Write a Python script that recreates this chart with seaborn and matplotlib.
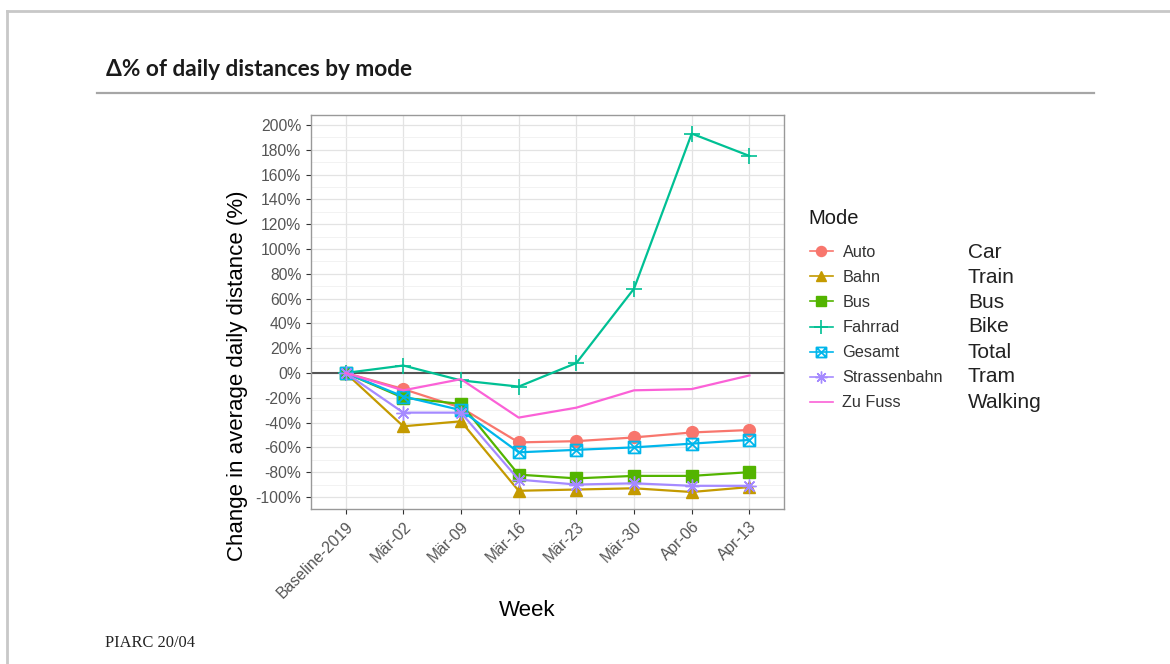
import numpy as np
import pandas as pd
import seaborn as sns
import matplotlib.pyplot as plt
from matplotlib.path import Path
from matplotlib.lines import Line2D
from matplotlib.ticker import FixedLocator, FuncFormatter

weeks = ["Baseline-2019", "Mär-02", "Mär-09", "Mär-16", "Mär-23", "Mär-30", "Apr-06", "Apr-13"]
modes = ["Auto", "Bahn", "Bus", "Fahrrad", "Gesamt", "Strassenbahn", "Zu Fuss"]
english = ["Car", "Train", "Bus", "Bike", "Total", "Tram", "Walking"]

auto = [0, -13, -28, -56, -55, -52, -48, -46]
bahn = [0, -43, -39, -95, -94, -93, -96, -92]
bus = [0, -20, -25, -82, -85, -83, -83, -80]
fahrrad = [0, 6, -6, -11, 8, 68, 193, 175]
gesamt = [0, -19, -30, -64, -62, -60, -57, -54]
strassenbahn = [0, -32, -32, -86, -90, -89, -91, -91]
zu_fuss = [0, -14, -5, -36, -28, -14, -13, -2]

series = [auto, bahn, bus, fahrrad, gesamt, strassenbahn, zu_fuss]
colors = ["#F8766D", "#C49A00", "#53B400", "#00C094", "#00B6EB", "#A58AFF", "#FB61D7"]

df = pd.DataFrame({
    "week": pd.Categorical(np.tile(weeks, len(modes)), categories=weeks, ordered=True),
    "mode": np.repeat(modes, len(weeks)),
    "change": np.concatenate(series),
})

# custom marker shapes (ggplot shapes 7 and 8)
box_x = Path(
    [(-1, -1), (1, -1), (1, 1), (-1, 1), (-1, -1), (-1, -1), (1, 1), (-1, 1), (1, -1)],
    [Path.MOVETO, Path.LINETO, Path.LINETO, Path.LINETO, Path.CLOSEPOLY,
     Path.MOVETO, Path.LINETO, Path.MOVETO, Path.LINETO],
)
marker_spec = {
    "Auto": dict(marker="o", markersize=8.5),
    "Bahn": dict(marker="^", markersize=9),
    "Bus": dict(marker="s", markersize=8),
    "Fahrrad": dict(marker="+", markersize=12, markeredgewidth=1.2),
    "Gesamt": dict(marker=box_x, markersize=8.5, markerfacecolor="none", markeredgewidth=1.3),
    "Strassenbahn": dict(marker=(8, 2, 0), markersize=10, markeredgewidth=1.0),
    "Zu Fuss": dict(marker="None", markersize=0),
}

fig = plt.figure(figsize=(11.7, 6.64), dpi=100)
W, H = 1170, 664
ax = fig.add_axes([311 / W, 1 - 509 / H, (784 - 311) / W, (509 - 115) / H])

sns.lineplot(
    data=df, x="week", y="change", hue="mode", hue_order=modes,
    palette=colors, linewidth=1.6, ax=ax, legend=False, zorder=3,
)

handles = []
for line, m in zip(ax.lines, modes):
    spec = marker_spec[m]
    col = line.get_color()
    line.set_marker(spec["marker"])
    line.set_markersize(spec["markersize"])
    line.set_markeredgecolor(col)
    line.set_markerfacecolor(spec.get("markerfacecolor", col))
    line.set_markeredgewidth(spec.get("markeredgewidth", 1.0))
    handles.append(Line2D([], [], color=col, linewidth=1.2,
                          marker=spec["marker"],
                          markersize=spec["markersize"] * 0.85,
                          markeredgecolor=col,
                          markerfacecolor=spec.get("markerfacecolor", col),
                          markeredgewidth=spec.get("markeredgewidth", 1.0)))

ax.axhline(0, color="#555555", linewidth=1.5, zorder=2)

ax.set_xlim(-0.6, 7.6)
ax.set_ylim(-109.7, 208)
ax.yaxis.set_major_locator(FixedLocator(np.arange(-100, 201, 20)))
ax.yaxis.set_minor_locator(FixedLocator(np.arange(-110, 201, 20)))
ax.yaxis.set_major_formatter(FuncFormatter(lambda v, p: f"{v:.0f}%"))

ax.set_facecolor("white")
ax.grid(which="major", color="#E3E3E3", linewidth=0.9, zorder=0)
ax.grid(which="minor", axis="y", color="#F0F0F0", linewidth=0.6, zorder=0)
ax.set_axisbelow(True)
for s in ax.spines.values():
    s.set_color("#999999")
    s.set_linewidth(1.0)

ax.tick_params(axis="both", which="major", colors="#333333", labelcolor="#555555",
               labelsize=11.3, length=3.5, width=0.8)
ax.tick_params(axis="y", which="minor", length=0)
plt.setp(ax.get_xticklabels(), rotation=45, ha="right", rotation_mode="anchor")
for t in ax.get_xticklabels() + ax.get_yticklabels():
    t.set_family("Liberation Sans")

ax.set_xlabel("Week", fontsize=16, color="black", family="Liberation Sans",
              ha="center", va="center")
ax.set_ylabel("Change in average daily distance (%)", fontsize=16, color="black",
              family="Liberation Sans", ha="center", va="center")
ax.xaxis.set_label_coords((527 - 311) / 473, (509 - 610) / 394)
ax.yaxis.set_label_coords((237 - 311) / 473, (509 - 376) / 394)

# legend (title placed separately to match the spacing)
fig.text(808 / W, 1 - 219 / H, "Mode", fontsize=14.5, family="Liberation Sans",
         va="center", ha="left", color="#1A1A1A")
leg = fig.legend(handles, modes, loc="upper left",
                 bbox_to_anchor=(810 / W, 1 - 245 / H), frameon=False,
                 prop={"family": "Liberation Sans", "size": 11.7},
                 handlelength=1.4, handletextpad=0.6, labelspacing=0.62,
                 borderpad=0, borderaxespad=0)
for t in leg.get_texts():
    t.set_color("#333333")

row_y = [252, 277, 302, 327, 352, 377, 403]
for name, y in zip(english, row_y):
    fig.text(968 / W, 1 - y / H, name, fontsize=15, family="Liberation Sans",
             va="center", ha="left", color="#222222")

# slide decorations
fig.text(106 / W, 1 - 70 / H, "Δ% of daily distances by mode", fontsize=16.3,
         fontweight="bold", family="Lato", va="center", ha="left", color="#1A1A1A")
fig.add_artist(Line2D([97 / W, 1094 / W], [1 - 93 / H, 1 - 93 / H],
                      color="#A6A6A6", linewidth=1.6))
fig.add_artist(Line2D([7 / W, 7 / W], [0, 1 - 11 / H], color="#C8C8C8", linewidth=2))
fig.add_artist(Line2D([7 / W, 1], [1 - 11 / H, 1 - 11 / H], color="#C8C8C8", linewidth=2))
fig.text(105 / W, 1 - 643 / H, "PIARC 20/04", fontsize=11.8, family="Liberation Serif",
         va="center", ha="left", color="#222222")

fig.savefig("out.png", dpi=100, facecolor="white")
